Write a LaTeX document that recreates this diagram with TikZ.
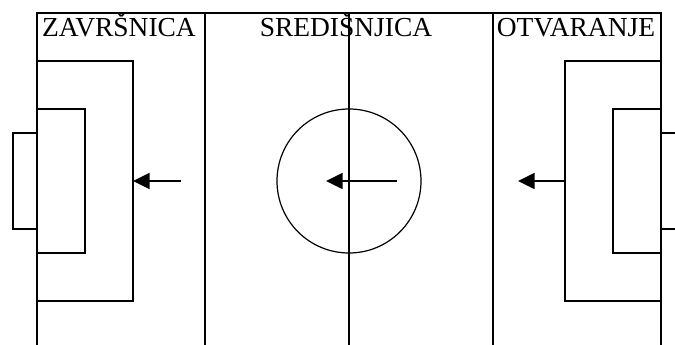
\documentclass[tikz,border=0pt]{standalone}
\usepackage{fontspec}
\setmainfont{Liberation Serif}
\usetikzlibrary{arrows.meta}

\begin{document}
\begin{tikzpicture}[
  x=.75pt, y=-.75pt,
  font=\fontsize{20.6}{23}\selectfont,
  line/.style={draw=black, line width=.9pt},
  area/.style={line, rectangle, inner sep=0pt, outer sep=0pt},
  penalty/.style={area, minimum width=72pt, minimum height=180pt},
  goalarea/.style={area, minimum width=36pt, minimum height=108pt},
  goal/.style={area, minimum width=18pt, minimum height=72pt},
  zone/.style={anchor=base, inner sep=0pt},
  move/.style={draw=black, line width=1.4pt, -{Triangle[length=12.5pt,width=12pt]}}
]
\path[use as bounding box, clip] (0,0) rectangle (675,345);

% touchlines and thirds of the pitch
\draw[line] (37,350) -- (37,13) -- (661,13) -- (661,350);
\foreach \x in {205,349,493}
  \draw[line] (\x,13) -- (\x,350);

\node[zone] (finish) at (119,37) {ZAVRŠNICA};
\node[zone] (middle) at (346,37) {SREDIŠNJICA};
\node[zone] (opening) at (576,37) {OTVARANJE};

\node[penalty] (penL) at (85,181) {};
\node[goalarea] (areaL) at (61,181) {};
\node[goal] (goalL) at (25,181) {};
\node[penalty] (penR) at (613,181) {};
\node[goalarea] (areaR) at (637,181) {};
\node[goal] (goalR) at (673,181) {};
\node[line, circle, minimum size=108pt, inner sep=0pt] (centre) at (349,181) {};

% attack runs from right to left
\coordinate (shotL) at (181,181);
\coordinate (ballC) at (397,181);
\coordinate (passC) at (326,181);
\coordinate (buildR) at (518,181);
\draw[move] (shotL) -- (penL.east);
\draw[move] (ballC) -- (passC);
\draw[move] (penR.west) -- (buildR);
\end{tikzpicture}
\end{document}
